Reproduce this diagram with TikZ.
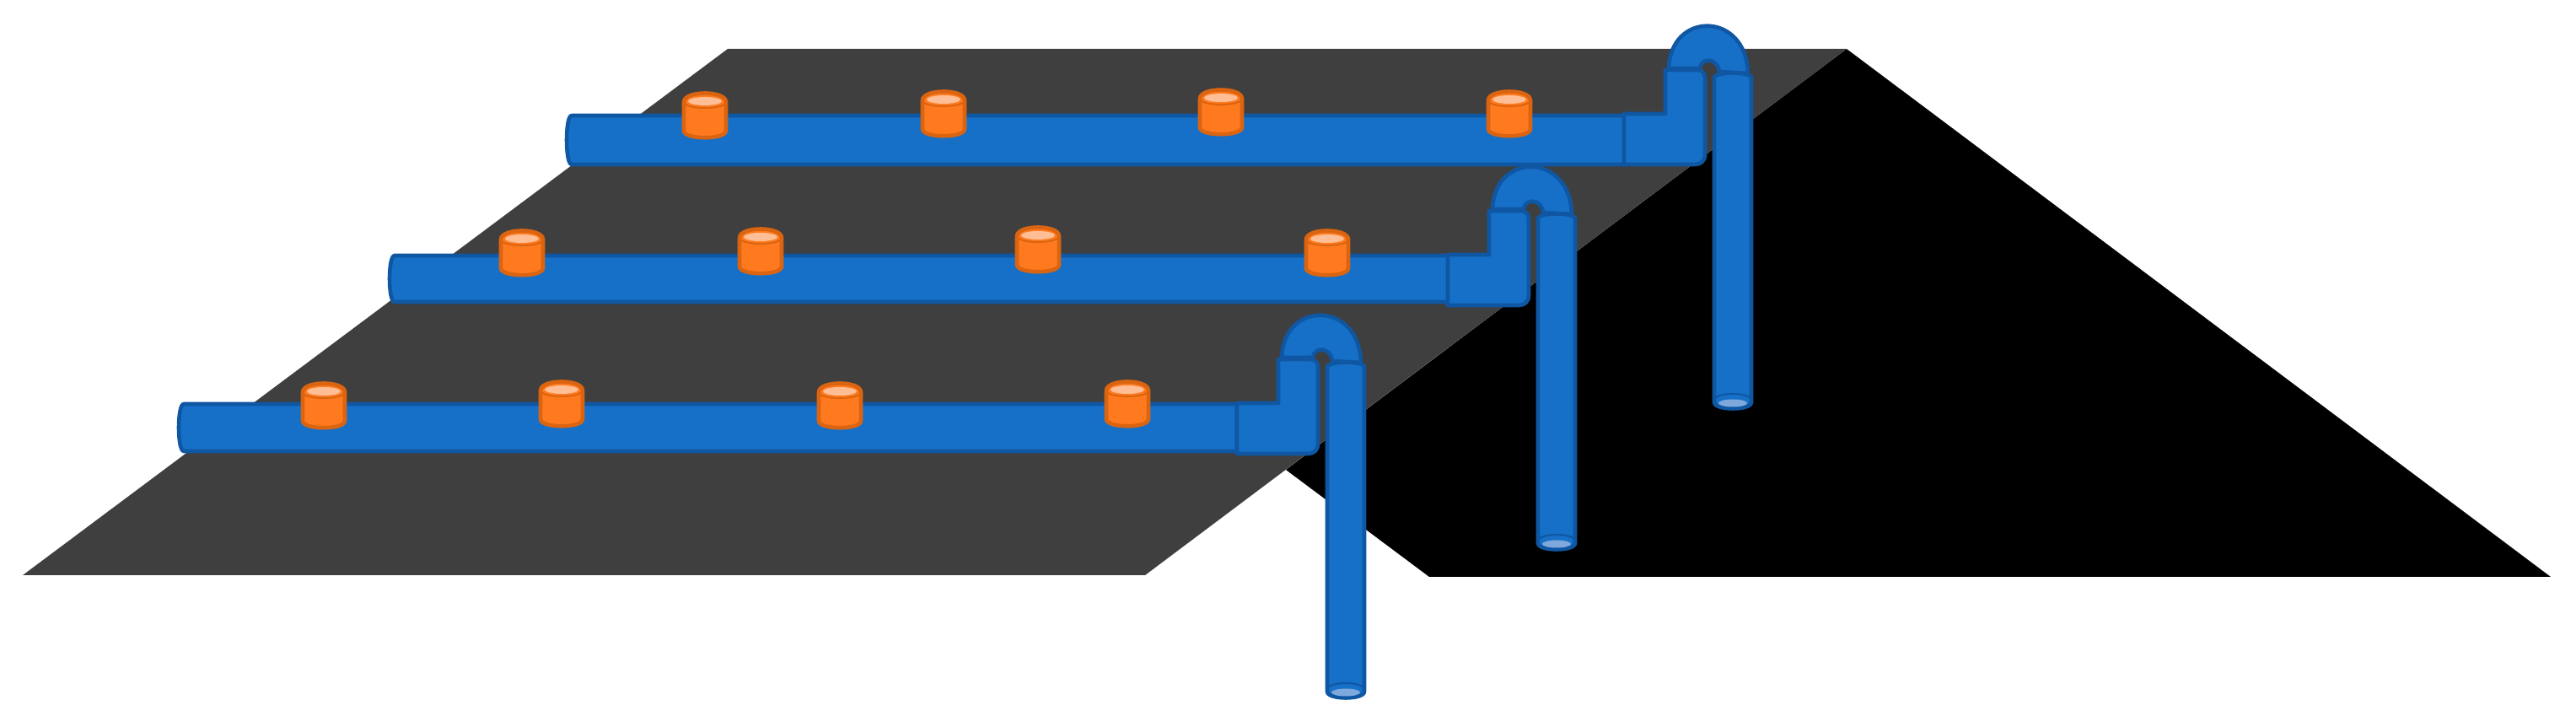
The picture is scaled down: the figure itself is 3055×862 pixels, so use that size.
\documentclass[tikz,border=0pt]{standalone}
\definecolor{dark}{HTML}{3F3F3F}
\definecolor{pipeblue}{HTML}{1670C8}
\definecolor{pipeedge}{HTML}{0F57A3}
\definecolor{pipelight}{HTML}{7FA9DD}
\definecolor{caporange}{HTML}{FF7A1F}
\definecolor{capedge}{HTML}{DB6410}
\definecolor{caplight}{HTML}{FFBE96}
\tikzset{
  pipe/.style={fill=pipeblue,draw=pipeedge,line width=1.3pt,line join=round},
  capbody/.style={fill=caporange,draw=capedge,line width=1.3pt,line join=round},
  captop/.style={fill=caplight,draw=none},
  pics/risercap/.style={code={
    \draw[capbody] (-25,-16) .. controls (-25,-30) and (25,-30) .. (25,-16)
      -- (25,18) .. controls (25,29) and (-25,29) .. (-25,18) -- cycle;
    \fill[captop] (0,-17) ellipse[x radius=20,y radius=5];
    \draw[capedge,line width=.6pt] (-25,-15) .. controls (-20,-7) and (20,-7) .. (25,-15);
  }},
  pics/bendset/.style={code={
    % U-bend, elbow and drop pipe of the bottom row, in reference pixels
    \draw[pipe] (1520,424) .. controls (1522,356) and (1612,356) .. (1614,430)
      -- (1580,428) .. controls (1578,411) and (1558,411) .. (1557,424) -- cycle;
    \draw[pipe] (1467,478) -- (1516,478) -- (1516,426) -- (1554,426)
      .. controls (1560,426) and (1563,430) .. (1563,436) -- (1563,526)
      .. controls (1563,534) and (1558,538) .. (1551,538) -- (1467,538) -- cycle;
    \draw[pipe] (1574,434) .. controls (1580,428) and (1612,428) .. (1618,434)
      -- (1618,820) .. controls (1618,830) and (1574,830) .. (1574,820) -- cycle;
    \fill[pipelight] (1596,821) ellipse[x radius=17,y radius=4.5];
    \draw[pipeedge,line width=.6pt] (1574,816) .. controls (1580,808) and (1612,808) .. (1618,816);
  }}
}
\newcommand{\mainpipe}[4]{% left, top, bottom, right
  \draw[pipe] (#1+8,#2) -- (#4,#2) -- (#4,#3) -- (#1+8,#3)
    .. controls (#1,#3) and (#1,#2) .. (#1+8,#2) -- cycle;
}
\begin{document}
\begin{tikzpicture}[x=0.01cm,y=-0.01cm]
\useasboundingbox (0,0) rectangle (3055,862);
% embankments
\fill[black] (2190,58) -- (3025,684) -- (1695,684) -- (1525,557) -- cycle;
\fill[dark] (863,58) -- (2190,58) -- (1358,682) -- (27,682) -- cycle;
% top row
\mainpipe{670}{137}{195}{1929}
\pic at (459,-343) {bendset};
\foreach \cx/\cy in {836/137,1119/135,1448/133,1790/135} \pic at (\cx,\cy) {risercap};
% middle row
\mainpipe{460}{303}{358}{1718}
\pic at (250,-176) {bendset};
\foreach \cx/\cy in {619/300,902/298,1231/296,1574/300} \pic at (\cx,\cy) {risercap};
% bottom row
\mainpipe{210}{479}{535}{1467}
\pic at (0,0) {bendset};
\foreach \cx/\cy in {384/481,666/479,996/481,1337/479} \pic at (\cx,\cy) {risercap};
\end{tikzpicture}
\end{document}
